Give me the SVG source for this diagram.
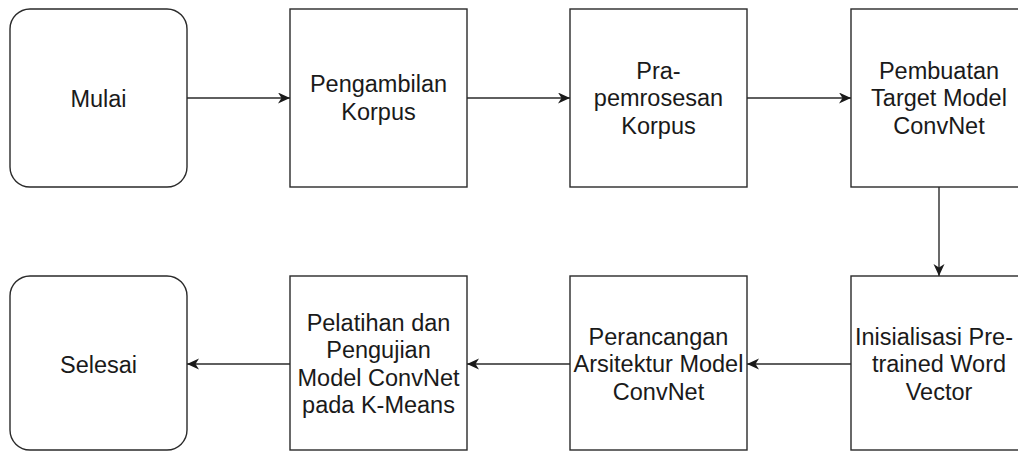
<svg xmlns="http://www.w3.org/2000/svg" width="1018" height="451" viewBox="0 0 1018 451">
<style>
.box{fill:#fff;stroke:#2a2a2a;stroke-width:1.4}
.lbl{font-family:"Liberation Sans",Arial,Helvetica,sans-serif;font-size:23.5px;fill:#1a1a1a;text-anchor:middle}
.edge{fill:none;stroke:#2a2a2a;stroke-width:1.4}
</style>
<defs>
<marker id="arr" markerUnits="userSpaceOnUse" markerWidth="14" markerHeight="12" refX="12" refY="5.5" orient="auto">
<path d="M0,0 L12,5.5 L0,11 L3.5,5.5 Z" fill="#1a1a1a"/>
</marker>
</defs>
<rect width="1018" height="451" fill="#fff"/>
<g id="connectors">
<line class="edge" x1="187" y1="98" x2="290" y2="98" marker-end="url(#arr)"/>
<line class="edge" x1="467" y1="98" x2="570" y2="98" marker-end="url(#arr)"/>
<line class="edge" x1="747" y1="98" x2="851" y2="98" marker-end="url(#arr)"/>
<line class="edge" x1="939" y1="187" x2="939" y2="276" marker-end="url(#arr)"/>
<line class="edge" x1="851" y1="364" x2="747" y2="364" marker-end="url(#arr)"/>
<line class="edge" x1="570" y1="364" x2="467" y2="364" marker-end="url(#arr)"/>
<line class="edge" x1="290" y1="364" x2="187" y2="364" marker-end="url(#arr)"/>
</g>
<g id="mulai">
<rect class="box" x="10" y="9" width="177" height="178" rx="20"/>
<text class="lbl" x="98.5" y="106.5">Mulai</text>
</g>
<g id="pengambilan">
<rect class="box" x="290" y="9" width="177" height="178"/>
<text class="lbl" x="378.5" y="92">Pengambilan</text>
<text class="lbl" x="378.5" y="120">Korpus</text>
</g>
<g id="prapemrosesan">
<rect class="box" x="570" y="9" width="177" height="178"/>
<text class="lbl" x="658.5" y="78.5">Pra-</text>
<text class="lbl" x="658.5" y="106">pemrosesan</text>
<text class="lbl" x="658.5" y="133.5">Korpus</text>
</g>
<g id="pembuatan">
<rect class="box" x="851" y="9" width="177" height="178"/>
<text class="lbl" x="939" y="78.5">Pembuatan</text>
<text class="lbl" x="939" y="106">Target Model</text>
<text class="lbl" x="939" y="133.5">ConvNet</text>
</g>
<g id="inisialisasi">
<rect class="box" x="851" y="276" width="177" height="174"/>
<text class="lbl" x="934" y="344.5">Inisialisasi Pre-</text>
<text class="lbl" x="939" y="372">trained Word</text>
<text class="lbl" x="939" y="399.5">Vector</text>
</g>
<g id="perancangan">
<rect class="box" x="570" y="276" width="177" height="174"/>
<text class="lbl" x="658.5" y="344.5">Perancangan</text>
<text class="lbl" x="658.5" y="372">Arsitektur Model</text>
<text class="lbl" x="658.5" y="399.5">ConvNet</text>
</g>
<g id="pelatihan">
<rect class="box" x="290" y="276" width="177" height="174"/>
<text class="lbl" x="378.5" y="330.5">Pelatihan dan</text>
<text class="lbl" x="378.5" y="358">Pengujian</text>
<text class="lbl" x="378.5" y="385.5">Model ConvNet</text>
<text class="lbl" x="378.5" y="413">pada K-Means</text>
</g>
<g id="selesai">
<rect class="box" x="10" y="276" width="177" height="174" rx="20"/>
<text class="lbl" x="98.5" y="372.5">Selesai</text>
</g>
</svg>
